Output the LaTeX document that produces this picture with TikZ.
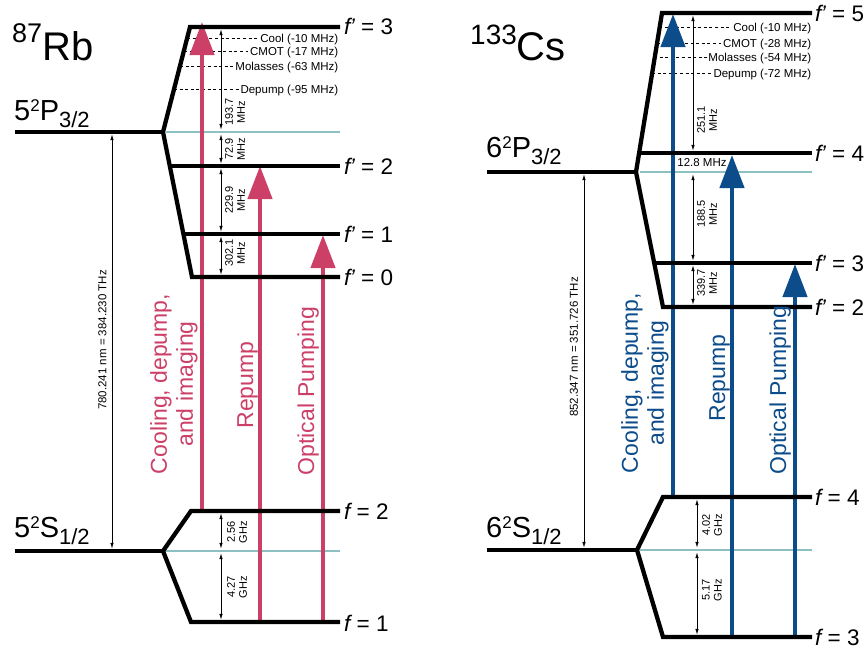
\documentclass[tikz,border=0pt]{standalone}
\usepackage{fontspec}
\setmainfont{Liberation Sans}
\usetikzlibrary{arrows.meta}
\definecolor{rbc}{RGB}{204,64,104}
\definecolor{csc}{RGB}{13,76,139}
\definecolor{tealc}{RGB}{140,192,194}
\newcommand\fsz[1]{\fontsize{#1}{#1}\selectfont}
\newcommand\fp{{\itshape f\kern-0.5pt’}}
\begin{document}
\begin{tikzpicture}[x=1pt,y=-1pt,
  lvl/.style={line width=4.3pt,line join=miter},
  midl/.style={line width=2.2pt,draw=tealc},
  detl/.style={line width=0.8pt,dash pattern=on 3pt off 2.6pt},
  gap/.style={line width=0.8pt,arrows={Latex[length=6pt,width=3.5pt]-Latex[length=6pt,width=3.5pt]},shorten <=2.2pt,shorten >=2.2pt},
  beam/.style={line width=4.3pt,arrows={-Triangle[length=33pt,width=24pt]}},
  flab/.style={anchor=west,font=\fsz{22.5},inner sep=0pt,text height=16pt,text depth=0pt},
  dlab/.style={anchor=east,font=\fsz{11.5},inner sep=1.5pt,text height=8pt,text depth=0pt},
  glab/.style={rotate=90,align=center,font=\fontsize{11}{12}\selectfont,inner sep=0pt},
  wlab/.style={rotate=90,font=\fsz{11.5},inner sep=0pt},
  blab/.style={rotate=90,align=center,font=\fontsize{23}{26}\selectfont,inner sep=0pt},
  lablev/.style={anchor=base west,inner sep=0pt,font=\fsz{29}},
  ttl/.style={anchor=base west,inner sep=0pt},
]
\useasboundingbox (0,0) rectangle (868,648);

% ---------------- Rb coordinates ----------------
\coordinate (rbPs) at (15,132);   \coordinate (rbPx) at (163,132);
\coordinate (rbPt) at (166,132);  \coordinate (rbPe) at (340,132);
\coordinate (rb3a) at (190,27);   \coordinate (rb3b) at (340,27);
\coordinate (rb2a) at (169,166);  \coordinate (rb2b) at (340,166);
\coordinate (rb1a) at (182,234);  \coordinate (rb1b) at (340,234);
\coordinate (rb0a) at (192,277);  \coordinate (rb0b) at (340,277);
\coordinate (rbSs) at (15,551);   \coordinate (rbSx) at (163,551);
\coordinate (rbSt) at (165,551);  \coordinate (rbSe) at (340,551);
\coordinate (rbg2a) at (191,511); \coordinate (rbg2b) at (340,511);
\coordinate (rbg1a) at (191,622); \coordinate (rbg1b) at (340,622);

% ---------------- Cs coordinates ----------------
\coordinate (csPs) at (487,172);  \coordinate (csPx) at (636,172);
\coordinate (csPt) at (640,172);  \coordinate (csPe) at (812,172);
\coordinate (cs5a) at (662,13);   \coordinate (cs5b) at (812,13);
\coordinate (cs4a) at (639,153);  \coordinate (cs4b) at (812,153);
\coordinate (cs3a) at (654,263);  \coordinate (cs3b) at (812,263);
\coordinate (cs2a) at (663,307);  \coordinate (cs2b) at (812,307);
\coordinate (csSs) at (487,550);  \coordinate (csSx) at (637,550);
\coordinate (csSt) at (640,550);  \coordinate (csSe) at (812,550);
\coordinate (csg4a) at (663,497); \coordinate (csg4b) at (812,497);
\coordinate (csg3a) at (663,637); \coordinate (csg3b) at (812,637);

% ---------------- centre-of-gravity lines ----------------
\draw[midl] (rbPt) -- (rbPe);
\draw[midl] (rbSt) -- (rbSe);
\draw[midl] (csPt) -- (csPe);
\draw[midl] (csSt) -- (csSe);

% ---------------- detunings ----------------
\node[dlab] (rbcool) at (340,38) {Cool (-10 MHz)};
\node[dlab] (rbcmot) at (340,51) {CMOT (-17 MHz)};
\node[dlab] (rbmol)  at (340,66) {Molasses (-63 MHz)};
\node[dlab] (rbdep)  at (340,89) {Depump (-95 MHz)};
\draw[detl] (187,38) -- (rbcool.west);
\draw[detl] (184,51) -- (rbcmot.west);
\draw[detl] (180,66) -- (rbmol.west);
\draw[detl] (174,89) -- (rbdep.west);

\node[dlab] (cscool) at (813,27) {Cool (-10 MHz)};
\node[dlab] (cscmot) at (813,43) {CMOT (-28 MHz)};
\node[dlab] (csmol)  at (813,57) {Molasses (-54 MHz)};
\node[dlab] (csdep)  at (813,73) {Depump (-72 MHz)};
\draw[detl] (659,27) -- (cscool.west);
\draw[detl] (657,43) -- (cscmot.west);
\draw[detl] (654,57) -- (csmol.west);
\draw[detl] (652,73) -- (csdep.west);

% ---------------- laser beams ----------------
\draw[beam,rbc] (202,511) -- (202,22);
\draw[beam,rbc] (260,622) -- (260,166);
\draw[beam,rbc] (323,622) -- (323,235);
\draw[beam,csc] (673,497) -- (673,14);
\draw[beam,csc] (732,637) -- (732,155);
\draw[beam,csc] (795,637) -- (795,264);

% ---------------- levels ----------------
\draw[lvl] (rb3b) -- (rb3a) -- (rbPx) -- (rb0a) -- (rb0b);
\draw[lvl] (rbPs) -- (rbPx);
\draw[lvl] (rb2a) -- (rb2b);
\draw[lvl] (rb1a) -- (rb1b);
\draw[lvl] (rbg2b) -- (rbg2a) -- (rbSx) -- (rbg1a) -- (rbg1b);
\draw[lvl] (rbSs) -- (rbSx);

\draw[lvl] (cs5b) -- (cs5a) -- (csPx) -- (cs2a) -- (cs2b);
\draw[lvl] (csPs) -- (csPx);
\draw[lvl] (cs4a) -- (cs4b);
\draw[lvl] (cs3a) -- (cs3b);
\draw[lvl] (csg4b) -- (csg4a) -- (csSx) -- (csg3a) -- (csg3b);
\draw[lvl] (csSs) -- (csSx);

% ---------------- splittings ----------------
\draw[gap] (221,27) -- (221,132);
\draw[gap] (221,132) -- (221,166);
\draw[gap] (221,166) -- (221,234);
\draw[gap] (221,234) -- (221,277);
\draw[gap] (221,511) -- (221,551);
\draw[gap] (221,551) -- (221,622);
\node[glab] (rbg1) at (235,112) {193.7\\MHz};
\node[glab] (rbg2) at (235,149) {72.9\\MHz};
\node[glab] (rbg3) at (235,200) {229.9\\MHz};
\node[glab] (rbg4) at (235,253) {302.1\\MHz};
\node[glab] (rbg5) at (237,532) {2.56\\GHz};
\node[glab] (rbg6) at (237,587) {4.27\\GHz};

\draw[gap] (693,13) -- (693,153);
\draw[gap] (693,172) -- (693,263);
\draw[gap] (693,263) -- (693,307);
\draw[gap] (697,497) -- (697,550);
\draw[gap] (697,550) -- (697,637);
\node[glab] (csg1) at (707,120) {251.1\\MHz};
\node[glab] (csg2) at (707,214) {188.5\\MHz};
\node[glab] (csg3) at (707,283) {339.7\\MHz};
\node[glab] (csg5) at (712,525) {4.02\\GHz};
\node[glab] (csg6) at (712,590) {5.17\\GHz};
\node[font=\fsz{11.5},inner sep=0pt] (cs128) at (702,163) {12.8 MHz};

% optical transitions
\draw[gap] (112,132) -- (112,551);
\node[wlab] (rbD2) at (102.5,340) {780.241 nm = 384.230 THz};
\draw[gap] (584,172) -- (584,550);
\node[wlab] (csD2) at (574,347) {852.347 nm = 351.726 THz};

% ---------------- level labels ----------------
\node[flab] (rbf3) at (344,26)  {\fp\ = 3};
\node[flab] (rbf2) at (344,166) {\fp\ = 2};
\node[flab] (rbf1) at (344,234) {\fp\ = 1};
\node[flab] (rbf0) at (344,277) {\fp\ = 0};
\node[flab] (rbg2l) at (344,511) {{\itshape f} = 2};
\node[flab] (rbg1l) at (344,623) {{\itshape f} = 1};

\node[flab] (csf5) at (815,13)  {\fp\ = 5};
\node[flab] (csf4) at (815,153) {\fp\ = 4};
\node[flab] (csf3) at (815,263) {\fp\ = 3};
\node[flab] (csf2) at (815,307) {\fp\ = 2};
\node[flab] (csg4l) at (815,497) {{\itshape f} = 4};
\node[flab] (csg3l) at (815,637) {{\itshape f} = 3};

\node[lablev] (rbPl) at (14,120) {5\raisebox{8.5pt}{\fsz{17}2}P\raisebox{-7pt}{\fsz{22}3/2}};
\node[lablev] (rbSl) at (14,537) {5\raisebox{8.5pt}{\fsz{17}2}S\raisebox{-7pt}{\fsz{22}1/2}};
\node[lablev] (csPl) at (486,157) {6\raisebox{8.5pt}{\fsz{17}2}P\raisebox{-7pt}{\fsz{22}3/2}};
\node[lablev] (csSl) at (486,537) {6\raisebox{8.5pt}{\fsz{17}2}S\raisebox{-7pt}{\fsz{22}1/2}};

% titles
\node[ttl] (rbT) at (12,60) {\raisebox{18pt}{\fsz{27}87}\fsz{40}Rb};
\node[ttl] (csT) at (470,60) {\raisebox{16pt}{\fsz{28}133}\fsz{40}Cs};

% beam labels
\node[blab,text=rbc] (rbL1) at (174,384) {Cooling, depump,\\and imaging};
\node[blab,text=rbc,anchor=base] (rbL2) at (253,385) {Repump};
\node[blab,text=rbc,anchor=base] (rbL3) at (314,391) {Optical Pumping};
\node[blab,text=csc] (csL1) at (645,383) {Cooling, depump,\\and imaging};
\node[blab,text=csc,anchor=base] (csL2) at (725,378) {Repump};
\node[blab,text=csc,anchor=base] (csL3) at (786,390) {Optical Pumping};
\end{tikzpicture}
\end{document}
